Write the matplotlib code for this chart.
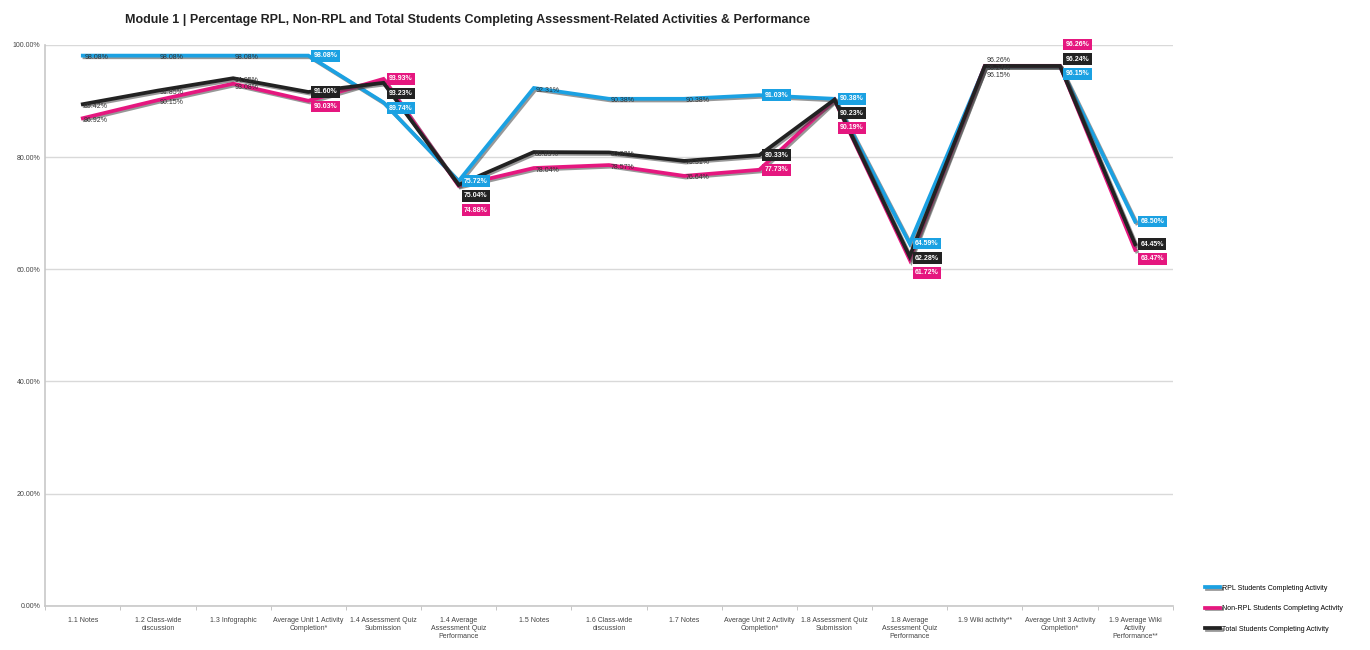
import numpy as np
import matplotlib
matplotlib.use("Agg")
import matplotlib.pyplot as plt
import matplotlib.patheffects as pe
from matplotlib.ticker import PercentFormatter

plt.rcParams['font.family'] = ['Liberation Sans', 'DejaVu Sans']

categories = [
    "1.1 Notes", "1.2 Class-wide\ndiscussion", "1.3 Infographic",
    "Average Unit 1 Activity\nCompletion*", "1.4 Assessment Quiz\nSubmission",
    "1.4 Average\nAssessment Quiz\nPerformance", "1.5 Notes",
    "1.6 Class-wide\ndiscussion", "1.7 Notes",
    "Average Unit 2 Activity\nCompletion*", "1.8 Assessment Quiz\nSubmission",
    "1.8 Average\nAssessment Quiz\nPerformance", "1.9 Wiki activity**",
    "Average Unit 3 Activity\nCompletion*",
    "1.9 Average Wiki\nActivity\nPerformance**",
]

rpl = [98.08, 98.08, 98.08, 98.08, 89.74, 75.72, 92.31, 90.38, 90.38,
       91.03, 90.38, 64.59, 96.15, 96.15, 68.50]
non_rpl = [86.92, 90.15, 93.08, 90.03, 93.93, 74.88, 78.04, 78.57, 76.64,
           77.73, 90.19, 61.72, 96.26, 96.26, 63.47]
total = [89.42, 91.85, 94.05, 91.60, 93.23, 75.04, 80.89, 80.82, 79.31,
         80.33, 90.23, 62.28, 96.24, 96.24, 64.45]

series_names = ["RPL Students Completing Activity",
                "Non-RPL Students Completing Activity",
                "Total Students Completing Activity"]
colors = ["#1ba1e2", "#e5177f", "#222222"]

# points whose labels are drawn in coloured boxes
boxed = [3, 4, 5, 9, 10, 11, 13, 14]
# extra vertical nudge of a label stack (in % units)
label_nudge = {13: 3.8}

fig = plt.figure(figsize=(13.7, 6.5), dpi=100)
ax = fig.add_axes([0.033, 0.068, 0.823, 0.863])

x = np.arange(len(categories))
all_series = [rpl, non_rpl, total]
shadow = [pe.SimpleLineShadow(offset=(1.2, -1.2), shadow_color='#444444', alpha=0.55), pe.Normal()]
for vals, c, name in zip(all_series, colors, series_names):
    ax.plot(x, vals, color=c, lw=2.7, label=name, path_effects=shadow,
            solid_joinstyle='miter', zorder=3)

# data labels, stacked so they don't collide
for i in x:
    vals = [(s[i], k) for k, s in enumerate(all_series)]
    vals.sort(key=lambda t: -t[0])
    nudge = label_nudge.get(i, 0)
    if i in boxed:
        gap = 2.6
        pos = []
        for v, k in vals:
            p = v if not pos else min(v, pos[-1] - gap)
            pos.append(p)
        for (v, k), p in zip(vals, pos):
            ax.annotate(f"{v:.2f}%", (i, p + nudge), xytext=(4, 0), textcoords='offset points',
                        ha='left', va='center', fontsize=5, color='white',
                        fontweight='bold', zorder=5,
                        bbox=dict(boxstyle='square,pad=0.35', fc=colors[k], ec='none'))
    else:
        gap = 1.3
        pos = []
        for v, k in vals:
            p = v if not pos else min(v, pos[-1] - gap)
            pos.append(p)
        shift = 0
        if max(abs(a[0] - b) for a, b in zip(vals, pos)) > 0.5:
            shift = (np.mean([a[0] for a in vals]) - np.mean(pos))
        for (v, k), p in zip(vals, pos):
            ax.annotate(f"{v:.2f}%", (i, p + shift + nudge), xytext=(1, -1.5), textcoords='offset points',
                        ha='left', va='center', fontsize=5, color='#333333', zorder=4)

ax.set_xlim(-0.5, len(categories) - 0.5)
ax.set_ylim(0, 100)
ax.set_yticks(np.arange(0, 101, 20))
ax.yaxis.set_major_formatter(PercentFormatter(decimals=2))
ax.set_xticks(x)
ax.set_xticklabels(categories, fontsize=5, color='#444444')
ax.set_xticks(np.arange(-0.5, len(categories), 1), minor=True)
ax.tick_params(axis='x', which='major', length=0, pad=8)
ax.tick_params(axis='x', which='minor', length=3, color='#bbbbbb')
ax.tick_params(axis='y', length=0, labelsize=5, labelcolor='#444444')
ax.grid(axis='y', color='#d9d9d9', lw=1)
ax.set_axisbelow(True)
for s in ['top', 'right']:
    ax.spines[s].set_visible(False)
ax.spines['left'].set_color('#c8c8c8')
ax.spines['bottom'].set_color('#c8c8c8')
ax.spines['left'].set_linewidth(1.2)
ax.spines['bottom'].set_linewidth(1.2)

fig.text(0.091, 0.97, "Module 1 | Percentage RPL, Non-RPL and Total Students Completing "
         "Assessment-Related Activities & Performance",
         fontsize=9, fontweight='bold', color='#222222', ha='left', va='center')

fig.legend(loc='lower left', bbox_to_anchor=(0.875, 0.017), frameon=False,
           fontsize=5, handlelength=2.2, handletextpad=0.2, labelspacing=1.95)

fig.savefig("out.png", dpi=100)
